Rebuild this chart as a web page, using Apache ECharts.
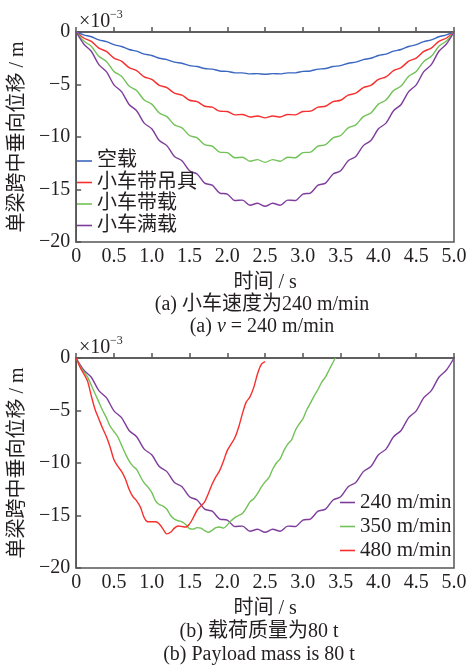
<!DOCTYPE html>
<html><head><meta charset="utf-8">
<script src="https://cdn.jsdelivr.net/npm/echarts@6/dist/echarts.min.js"></script>
<style>html,body{margin:0;padding:0;background:#fff;}#c{width:472px;height:668px;}</style>
</head><body><div id="c"></div>
<script>
// ---------- data ----------
const timeA = [0,0.1,0.2,0.3,0.4,0.5,0.6,0.7,0.8,0.9,1.0,1.1,1.2,1.3,1.4,1.5,1.6,1.7,1.8,1.9,2.0,2.1,2.2,2.3,2.4,2.5,2.6,2.7,2.8,2.9,3.0,3.1,3.2,3.3,3.4,3.5,3.6,3.7,3.8,3.9,4.0,4.1,4.2,4.3,4.4,4.5,4.6,4.7,4.8,4.9,5.0];
const emptyLoad = [0,-0.27,-0.45,-0.75,-0.92,-1.21,-1.38,-1.67,-1.82,-2.10,-2.24,-2.50,-2.63,-2.87,-2.98,-3.20,-3.29,-3.48,-3.54,-3.71,-3.75,-3.89,-3.89,-3.99,-3.96,-4.03,-3.96,-3.99,-3.89,-3.89,-3.75,-3.71,-3.54,-3.48,-3.29,-3.20,-2.98,-2.87,-2.63,-2.50,-2.24,-2.10,-1.82,-1.67,-1.38,-1.21,-0.92,-0.75,-0.45,-0.27,0];
const withSpreader = [0,-0.57,-0.89,-1.53,-1.85,-2.48,-2.78,-3.39,-3.68,-4.27,-4.52,-5.08,-5.30,-5.83,-6.01,-6.50,-6.63,-7.07,-7.16,-7.54,-7.57,-7.89,-7.85,-8.10,-8.00,-8.18,-8.00,-8.10,-7.85,-7.89,-7.57,-7.54,-7.16,-7.07,-6.63,-6.50,-6.01,-5.83,-5.30,-5.08,-4.52,-4.27,-3.68,-3.39,-2.78,-2.48,-1.85,-1.53,-0.89,-0.57,0];
const withLoad = [0,-0.86,-1.35,-2.32,-2.81,-3.76,-4.22,-5.15,-5.58,-6.48,-6.87,-7.71,-8.06,-8.85,-9.13,-9.86,-10.08,-10.73,-10.87,-11.44,-11.49,-11.97,-11.93,-12.31,-12.15,-12.42,-12.15,-12.31,-11.93,-11.97,-11.49,-11.44,-10.87,-10.73,-10.08,-9.86,-9.13,-8.85,-8.06,-7.71,-6.87,-6.48,-5.58,-5.15,-4.22,-3.76,-2.81,-2.32,-1.35,-0.86,0];
const fullLoad = [0,-1.14,-1.83,-3.11,-3.78,-5.03,-5.68,-6.90,-7.50,-8.68,-9.22,-10.34,-10.82,-11.86,-12.26,-13.22,-13.53,-14.39,-14.59,-15.34,-15.43,-16.05,-16.01,-16.50,-16.31,-16.60,-16.31,-16.50,-16.01,-16.05,-15.43,-15.34,-14.59,-14.39,-13.53,-13.22,-12.26,-11.86,-10.82,-10.34,-9.22,-8.68,-7.50,-6.90,-5.68,-5.03,-3.78,-3.11,-1.83,-1.14,0];

const time350 = [0,0.05,0.1,0.15,0.2,0.25,0.3,0.35,0.4,0.45,0.5,0.55,0.6,0.65,0.7,0.75,0.8,0.85,0.9,0.95,1.0,1.05,1.1,1.15,1.2,1.25,1.3,1.35,1.4,1.45,1.5,1.55,1.6,1.65,1.7,1.75,1.8,1.85,1.9,1.95,2.0,2.05,2.1,2.15,2.2,2.25,2.3,2.35,2.4,2.45,2.5,2.55,2.6,2.65,2.7,2.75,2.8,2.85,2.9,2.95,3.0,3.05,3.1,3.15,3.2,3.25,3.3,3.35,3.4,3.43];
const speed350 = [0,-0.75,-1.3,-1.8,-2.6,-3.4,-4.2,-5.0,-5.7,-6.5,-7.0,-7.5,-8.3,-9.1,-9.8,-10.3,-10.6,-11.3,-11.9,-12.3,-12.8,-13.6,-13.95,-14.1,-14.4,-15.0,-15.35,-15.5,-15.6,-15.85,-16.25,-16.3,-16.15,-16.2,-16.45,-16.6,-16.4,-16.15,-16.1,-16.2,-15.9,-15.5,-15.2,-15.0,-14.8,-14.3,-13.7,-13.4,-12.9,-12.3,-11.8,-11.4,-10.6,-10.0,-9.6,-8.8,-8.2,-7.8,-6.9,-6.3,-5.8,-4.95,-4.3,-3.6,-3.0,-2.3,-1.8,-1.1,-0.4,0];
const time480 = [0,0.05,0.1,0.15,0.2,0.25,0.3,0.35,0.4,0.45,0.5,0.55,0.6,0.65,0.7,0.75,0.8,0.85,0.9,0.95,1.0,1.05,1.1,1.15,1.2,1.25,1.3,1.35,1.4,1.45,1.5,1.55,1.6,1.65,1.7,1.75,1.8,1.85,1.9,1.95,2.0,2.05,2.1,2.15,2.2,2.25,2.3,2.35,2.4,2.45,2.5];
const speed480 = [0,-0.85,-1.5,-2.2,-3.6,-4.9,-5.8,-6.7,-7.5,-8.5,-9.7,-10.3,-10.8,-11.5,-12.5,-13.2,-13.6,-14.2,-15.2,-15.6,-15.6,-15.6,-15.8,-16.3,-16.75,-16.6,-16.2,-16.0,-16.05,-16.1,-15.8,-15.2,-14.5,-14.1,-13.7,-12.9,-12.0,-11.3,-10.7,-9.8,-8.8,-8.2,-7.6,-6.6,-5.3,-4.2,-3.7,-2.8,-1.5,-0.6,-0.35];
const speed240 = fullLoad;

const namesTop = ['空载','小车带吊具','小车带载','小车满载'];
const namesBottom = ['240 m/min','350 m/min','480 m/min'];
const xTicks = {min:0, max:5, interval:0.5};
const yTicks = {min:-20, max:0, interval:5};

// ---------- styling ----------
const FONT = "'Liberation Serif','Times New Roman','Noto Sans CJK SC',serif";
const TXT = '#231f20';
const AX = '#555';
const C = {blue:'#3b67c0', red:'#f5302e', green:'#72c258', purple:'#7e3d9c'};

function zip(t, v){ return t.map((x,i)=>[x, v[i]]); }

function xAx(gi){
  return {gridIndex:gi, type:'value', min:xTicks.min, max:xTicks.max, interval:xTicks.interval,
    name:'时间 / s', nameLocation:'middle', nameGap:31,
    nameTextStyle:{fontSize:20, fontFamily:FONT, color:TXT},
    axisLine:{lineStyle:{color:AX, width:1.5}},
    axisTick:{inside:true, length:5, lineStyle:{color:AX, width:1.5}},
    axisLabel:{fontSize:20, fontFamily:FONT, color:TXT, margin:5,
      formatter:v=> v===0 ? '0' : v.toFixed(1)},
    splitLine:{show:false}};
}
function yAx(gi){
  return {gridIndex:gi, type:'value', min:yTicks.min, max:yTicks.max, interval:yTicks.interval,
    name:'单梁跨中垂向位移 / m', nameLocation:'middle', nameRotate:90, nameGap:45,
    nameTextStyle:{fontSize:20, fontFamily:FONT, color:TXT},
    axisLine:{lineStyle:{color:AX, width:1.5}},
    axisTick:{inside:true, length:5, lineStyle:{color:AX, width:1.5}},
    axisLabel:{fontSize:20, fontFamily:FONT, color:TXT, margin:6,
      formatter:v=> v<0 ? '\u2212'+Math.abs(v) : String(v)},
    splitLine:{show:false}};
}
function line(name, gi, t, v, color){
  return {name, type:'line', xAxisIndex:gi, yAxisIndex:gi, data:zip(t,v),
    symbol:'none', showSymbol:false, smooth:0.3,
    lineStyle:{color, width:1.4}, itemStyle:{color}};
}
function txt(text, x, y, size, extra){
  return {type:'text', silent:true, style:Object.assign({text, x, y, fontSize:size, fontFamily:FONT,
    fill:TXT, align:'left', verticalAlign:'middle'}, extra||{})};
}

const chart = echarts.init(document.getElementById('c'), null, {renderer:'canvas'});
chart.setOption({
  animation:false,
  backgroundColor:'#fff',
  grid:[
    {left:76, top:32, width:378, height:210, show:true, borderColor:AX, borderWidth:1.5, containLabel:false},
    {left:76, top:358, width:378, height:210, show:true, borderColor:AX, borderWidth:1.5, containLabel:false}
  ],
  xAxis:[xAx(0), xAx(1)],
  yAxis:[yAx(0), yAx(1)],
  legend:[
    {data:namesTop, orient:'vertical', left:77, top:151, itemWidth:15, itemHeight:1.6, itemGap:1.5, itemTextGap:2,
      icon:'rect', padding:0, textStyle:{fontSize:20, lineHeight:20, fontFamily:FONT, color:TXT}},
    {data:namesBottom, orient:'vertical', left:340, top:492, itemWidth:15, itemHeight:1.6, itemGap:3, itemTextGap:3,
      icon:'rect', padding:0, textStyle:{fontSize:21, lineHeight:20, fontFamily:FONT, color:TXT}}
  ],
  series:[
    line(namesTop[0],0,timeA,emptyLoad,C.blue),
    line(namesTop[1],0,timeA,withSpreader,C.red),
    line(namesTop[2],0,timeA,withLoad,C.green),
    line(namesTop[3],0,timeA,fullLoad,C.purple),
    line(namesBottom[0],1,timeA,speed240,C.purple),
    line(namesBottom[1],1,time350,speed350,C.green),
    line(namesBottom[2],1,time480,speed480,C.red)
  ],
  graphic:[
    txt('×10', 79, 22, 20),
    txt('\u22123', 110, 15, 12),
    txt('×10', 79, 348, 20),
    txt('\u22123', 110, 341, 12),
    txt('(a) 小车速度为240 m/min', 262, 305, 20, {align:'center'}),
    txt('(a) {i|v} = 240 m/min', 262, 327, 20, {align:'center', rich:{i:{fontStyle:'italic', fontSize:20, fontFamily:FONT, fill:TXT}}}),
    txt('(b) 载荷质量为80 t', 259, 632, 20, {align:'center'}),
    txt('(b) Payload mass is 80 t', 259, 655, 20, {align:'center'})
  ]
});
</script>
</body></html>
